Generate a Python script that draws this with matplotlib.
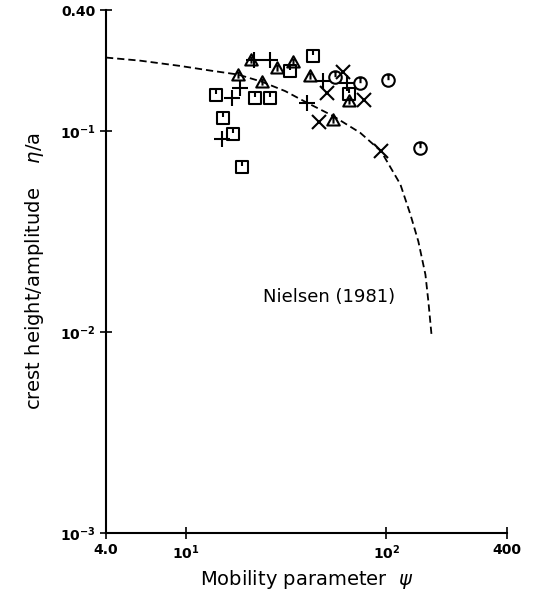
import numpy as np
import matplotlib.pyplot as plt
from matplotlib.path import Path
from matplotlib.ticker import NullLocator

# data (psi, eta/a)
sq_x = [43.3, 33.1, 14.2, 22.1, 26.3, 15.3, 17.1, 19.0, 65.5]
sq_y = [0.237, 0.1995, 0.151, 0.1467, 0.1467, 0.1165, 0.0969, 0.066, 0.1536]

plus_x = [21.9, 26.3, 18.6, 17.0, 15.2, 40.1, 48.3, 63.6]
plus_y = [0.2257, 0.2257, 0.1635, 0.1467, 0.0917, 0.1385, 0.178, 0.1743]

tri_x = [21.1, 28.4, 34.4, 18.3, 23.9, 41.7, 54.1, 65.5]
tri_y = [0.2257, 0.207, 0.2195, 0.1905, 0.176, 0.188, 0.113, 0.141]

circ_x = [55.6, 74.1, 101.5, 146.7]
circ_y = [0.1847, 0.1743, 0.179, 0.0819]

x_x = [60.8, 50.5, 77.0, 46.4, 94.1]
x_y = [0.1956, 0.1554, 0.1424, 0.111, 0.0794]

# Nielsen (1981) curve
niel_x = [4.0, 5.9, 9.3, 13.2, 18.2, 23.9, 31.3, 40.1, 54.1, 74.1, 94.1,
          117.5, 131.8, 144.5, 156.7, 162.2, 167.9]
niel_y = [0.232, 0.224, 0.211, 0.200, 0.191, 0.176, 0.158, 0.1385, 0.119,
          0.098, 0.0794, 0.0543, 0.0385, 0.0282, 0.0193, 0.0141, 0.00977]

xticks = [4, 10, 100, 400]
xticklabels = ['4.0', r'$\mathbf{10^1}$', r'$\mathbf{10^2}$', '400']
yticks = [1e-3, 1e-2, 1e-1, 0.4]
yticklabels = [r'$\mathbf{10^{-3}}$', r'$\mathbf{10^{-2}}$', r'$\mathbf{10^{-1}}$', '0.40']

M, L, C = Path.MOVETO, Path.LINETO, Path.CLOSEPOLY
sq_marker = Path([(-1, -1), (1, -1), (1, 1), (-1, 1), (-1, -1), (0, 1), (0, 0.1)],
                 [M, L, L, L, C, M, L])
tri_marker = Path([(-1, -0.8), (1, -0.8), (0, 1), (-1, -0.8), (0, 0.55), (0, -0.5)],
                  [M, L, L, C, M, L])
circ_marker = Path.make_compound_path(Path.unit_circle(),
                                      Path([(0, 1), (0, 0.05)], [M, L]))

plt.rcParams['font.family'] = 'DejaVu Sans'
plt.rcParams['mathtext.fontset'] = 'dejavusans'

fig = plt.figure(figsize=(5.39, 5.96), dpi=100)
ax = fig.add_axes([0.1967, 0.1057, 0.744, 0.8775])
ax.set_xscale('log')
ax.set_yscale('log')

ax.plot(niel_x, niel_y, color='black', lw=1.3, dashes=(4, 2.2))

kw = dict(ls='none', color='black', mfc='none', mew=1.5)
ax.plot(sq_x, sq_y, marker=sq_marker, ms=9, **kw)
ax.plot(plus_x, plus_y, marker='+', ms=11, **kw)
ax.plot(tri_x, tri_y, marker=tri_marker, ms=9, **kw)
ax.plot(circ_x, circ_y, marker=circ_marker, ms=9, **kw)
ax.plot(x_x, x_y, marker='x', ms=10, **kw)

ax.text(24.3, 0.015, 'Nielsen (1981)', fontsize=13, va='center', ha='left')

ax.set_xlim(4, 400)
ax.set_ylim(1e-3, 0.4)
ax.set_xticks(xticks)
ax.set_xticklabels(xticklabels)
ax.set_yticks(yticks)
ax.set_yticklabels(yticklabels)
ax.xaxis.set_minor_locator(NullLocator())
ax.yaxis.set_minor_locator(NullLocator())
ax.tick_params(direction='inout', length=8, width=1.2, labelsize=10)
for lab in ax.get_xticklabels() + ax.get_yticklabels():
    lab.set_fontweight('bold')

ax.spines['top'].set_visible(False)
ax.spines['right'].set_visible(False)
ax.spines['left'].set_linewidth(1.5)
ax.spines['bottom'].set_linewidth(1.5)

ax.set_xlabel(r'Mobility parameter  $\psi$', fontsize=14, labelpad=4)
ax.set_ylabel(r'crest height/amplitude    $\eta$/a', fontsize=14, labelpad=10)

fig.savefig('out.png', dpi=100)
